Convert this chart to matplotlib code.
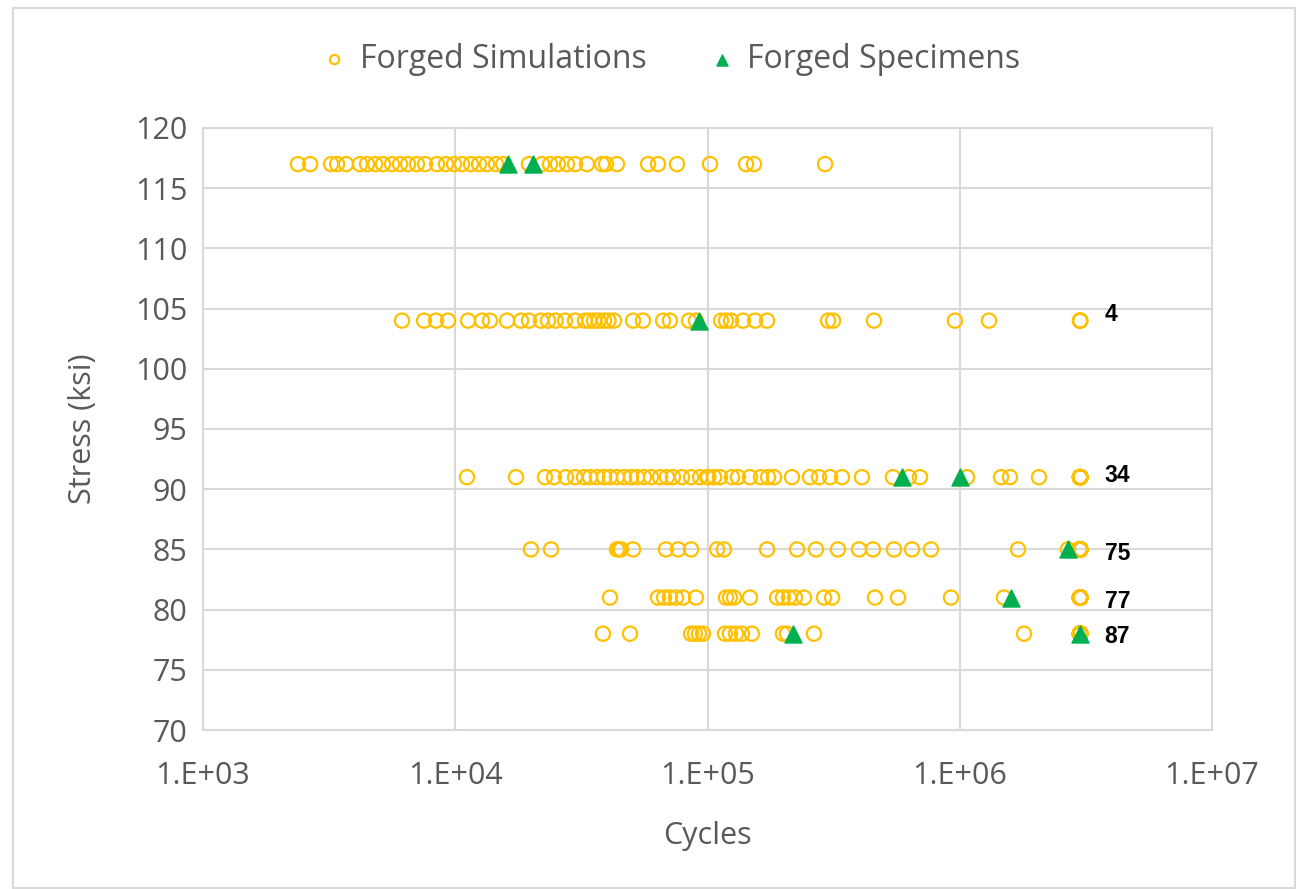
import matplotlib.pyplot as plt
import numpy as np
from matplotlib.patches import Rectangle

# simulated lives, one list per stress level (ksi)
sim_117 = [2380, 2660, 3220, 3400, 3690, 4190, 4470, 4810, 5170, 5610, 6040,
           6500, 7050, 7590, 8470, 9190, 9890, 10640, 11540, 12420, 13360,
           14510, 15500, 19600, 22080, 23760, 25540, 27740, 29850, 33270,
           38170, 39600, 43760, 58100, 63640, 75700, 102300, 142200, 152800,
           292500]
sim_104 = [6150, 7520, 8390, 9360, 11240, 12770, 13730, 16040, 18230, 19600,
           21870, 23320, 25000, 27230, 29850, 32690, 34000, 35480, 37000,
           38900, 40500, 42580, 50690, 55470, 66650, 70970, 84500, 90000,
           113200, 118400, 123900, 138300, 154300, 172200, 300600, 314600,
           457000, 957000, 1306000]
sim_91 = [11130, 17410, 22680, 24620, 27480, 29850, 32390, 34200, 36480, 38900,
          41040, 43760, 46670, 49750, 52550, 56010, 59720, 64860, 69060, 72950,
          79230, 86070, 93370, 99540, 100700, 106200, 112100, 125100, 132100,
          147300, 162900, 173800, 183600, 216200, 254800, 276700, 306200,
          341400, 409600, 543400, 629000, 695600, 1069000, 1458000, 1581000,
          2061000]
sim_85 = [19950, 23970, 43760, 44590, 45400, 50690, 68450, 76410, 86070, 109100,
          116200, 172200, 226400, 269300, 328900, 398800, 452900, 548500,
          646900, 769300, 1702000, 2685000]
sim_81 = [41040, 63640, 67250, 70970, 75000, 79980, 89990, 118400, 122700,
          127400, 147300, 188800, 199100, 210400, 222300, 241300, 289700,
          311800, 461300, 569300, 923000, 1497000]
sim_78 = [38500, 49300, 86070, 89130, 92500, 96000, 117300, 122700, 129700,
          137000, 150000, 199100, 206600, 264300, 1798000]

stress_levels = [117, 104, 91, 85, 81, 78]
runout_cycles = 3.0e6
runout_counts = [0, 4, 34, 75, 77, 87]

# specimen tests
spec_cycles = [16180, 20330, 92500, 590000, 1002000, 2685000, 1596000, 218300, 3000000]
spec_stress = [117, 117, 104, 91, 91, 85, 81, 78, 78]

gold = '#FFC000'
green = '#00B050'
grey_txt = '#595959'
grid_c = '#D9D9D9'

plt.rcParams['font.family'] = ['Open Sans', 'DejaVu Sans']

fig = plt.figure(figsize=(13, 8.89), dpi=100)
ax = fig.add_axes([203/1300, 1 - 730/889, (1212 - 203)/1300, (730 - 128)/889])

sims = [sim_117, sim_104, sim_91, sim_85, sim_81, sim_78]
xs, ys = [], []
for s, lives, n in zip(stress_levels, sims, runout_counts):
    lives = list(lives) + [runout_cycles] * n
    xs += lives
    ys += [s] * len(lives)

ax.scatter(xs, ys, s=105, facecolors='none', edgecolors=gold, linewidths=1.6,
           label='Forged Simulations', zorder=3)
ax.scatter(spec_cycles, spec_stress, s=150, marker='^', color=green,
           label='Forged Specimens', zorder=4)

# runout counts next to the right-hand column
label_y = [None, 104.5, 91.1, 84.7, 80.7, 77.75]
for ly, n in zip(label_y, runout_counts):
    if n == 0:
        continue
    ax.text(3.75e6, ly, str(n), fontsize=16.5, fontweight='bold',
            family=['Liberation Sans', 'DejaVu Sans'], color='black',
            ha='left', va='center')

ax.set_xscale('log')
ax.set_xlim(1e3, 1e7)
ax.set_ylim(70, 120)
ax.set_yticks(np.arange(70, 121, 5))
ax.set_xticks([1e3, 1e4, 1e5, 1e6, 1e7])
ax.set_xticklabels(['1.E+03', '1.E+04', '1.E+05', '1.E+06', '1.E+07'])
ax.minorticks_off()
ax.grid(True, color=grid_c, linewidth=1.5)
ax.set_axisbelow(True)
for sp in ax.spines.values():
    sp.set_color(grid_c)
    sp.set_linewidth(1.5)
ax.tick_params(length=0, labelsize=22, colors=grey_txt)
ax.tick_params(axis='x', pad=22)
ax.tick_params(axis='y', pad=11)
ax.set_xlabel('Cycles', fontsize=22, color=grey_txt, labelpad=22)
ax.set_ylabel('Stress (ksi)', fontsize=22, color=grey_txt, labelpad=27)

fig.legend(loc='upper center', bbox_to_anchor=(0.512, 0.984), ncol=2,
           frameon=False, fontsize=23, labelcolor=grey_txt, handletextpad=0.05,
           handlelength=1.5, columnspacing=1.6, markerscale=0.65)

# chart area border
fig.patches.append(Rectangle((13/1300, 0.001), (1295 - 13)/1300, (880)/889,
                             transform=fig.transFigure, fill=False,
                             edgecolor=grid_c, linewidth=1.5))

fig.savefig('out.png', dpi=100)
